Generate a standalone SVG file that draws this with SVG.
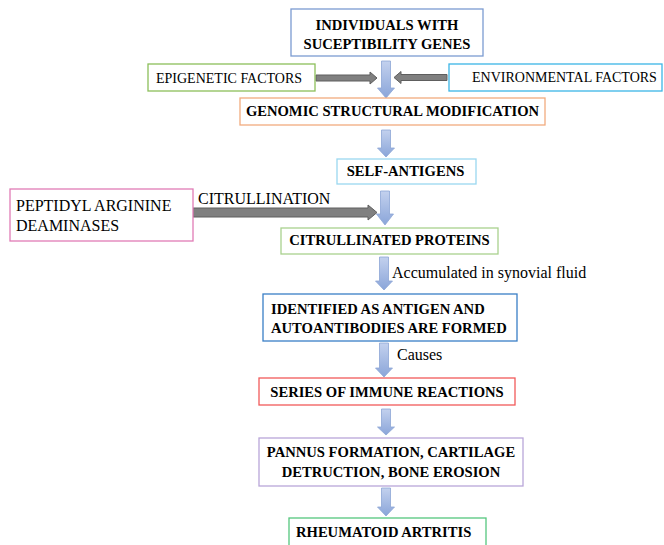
<svg xmlns="http://www.w3.org/2000/svg" width="664" height="545" viewBox="0 0 664 545">
<style>
  .box { fill: #ffffff; stroke-width: 1.3; }
  .b { font-family: "Liberation Serif", "Times New Roman", serif; font-weight: bold; font-size: 14.6px; fill: #000; }
  .r { font-family: "Liberation Serif", "Times New Roman", serif; font-size: 16px; fill: #000; }
  .s { font-family: "Liberation Serif", "Times New Roman", serif; font-size: 14px; fill: #000; }
  .varrow { fill: url(#blueGrad); stroke: #8da6d6; stroke-width: 0.8; }
  .harrow { fill: #808080; stroke: #5e5e5e; stroke-width: 1; }
</style>
<defs>
  <linearGradient id="blueGrad" x1="0" y1="0" x2="0" y2="1">
    <stop offset="0" stop-color="#c3d1ee"/>
    <stop offset="1" stop-color="#8aa5d9"/>
  </linearGradient>
</defs>
<rect width="664" height="545" fill="#ffffff"/>

<g id="connectors">
  <!-- vertical blue arrows -->
  <path class="varrow" d="M381.5,61 H390.5 V88 H394.5 L386,98 L377.5,88 H381.5 Z"/>
  <path class="varrow" d="M381.5,130 H390.5 V148 H394.5 L386,157 L377.5,148 H381.5 Z"/>
  <path class="varrow" d="M380.5,191 H389.5 V214 H393.5 L385,225 L376.5,214 H380.5 Z"/>
  <path class="varrow" d="M379.5,257 H388.5 V281 H392.5 L384,290 L375.5,281 H379.5 Z"/>
  <path class="varrow" d="M379.5,343 H388.5 V368 H392.5 L384,377 L375.5,368 H379.5 Z"/>
  <path class="varrow" d="M381.5,409 H390.5 V427 H394.5 L386,435 L377.5,427 H381.5 Z"/>
  <path class="varrow" d="M381.5,488 H390.5 V507 H394.5 L386,516 L377.5,507 H381.5 Z"/>
  <!-- gray horizontal arrows -->
  <path class="harrow" d="M316,75 H370 V72 L377,78 L370,84 V81 H316 Z"/>
  <path class="harrow" d="M447,74.5 H401 V71.5 L394,77.5 L401,83.5 V80.5 H447 Z"/>
  <path class="harrow" d="M193,208 H368 V205 L377,212.5 L368,220 V217 H193 Z"/>
  <text class="r" x="198" y="204">CITRULLINATION</text>
  <text class="r" x="392" y="278">Accumulated in synovial fluid</text>
  <text class="r" x="397" y="360">Causes</text>
</g>

<g id="individuals">
  <rect class="box" x="291" y="9" width="192" height="47" stroke="#7b9bd1"/>
  <text class="b" x="387" y="30" text-anchor="middle">INDIVIDUALS WITH</text>
  <text class="b" x="387" y="49" text-anchor="middle">SUCEPTIBILITY GENES</text>
</g>

<g id="epigenetic">
  <rect class="box" x="148" y="64" width="167" height="27" stroke="#8cbf5a"/>
  <text class="s" x="156" y="83">EPIGENETIC FACTORS</text>
</g>

<g id="environmental">
  <rect class="box" x="449" y="64" width="213" height="27" stroke="#3bb5e6"/>
  <text class="s" x="472" y="82">ENVIRONMENTAL FACTORS</text>
</g>

<g id="genomic">
  <rect class="box" x="240" y="98" width="305" height="27" stroke="#f2ab7e"/>
  <text class="b" x="392.5" y="116" text-anchor="middle">GENOMIC STRUCTURAL MODIFICATION</text>
</g>

<g id="self-antigens">
  <rect class="box" x="337" y="159" width="139" height="25" stroke="#9ad8f0"/>
  <text class="b" x="405.5" y="176" text-anchor="middle">SELF-ANTIGENS</text>
</g>

<g id="peptidyl">
  <rect class="box" x="10" y="189" width="183" height="52" stroke="#e07cb6"/>
  <text class="r" x="16" y="211">PEPTIDYL ARGININE</text>
  <text class="r" x="16" y="231">DEAMINASES</text>
</g>

<g id="citrullinated">
  <rect class="box" x="281" y="228" width="217" height="26" stroke="#a9d18e"/>
  <text class="b" x="389.5" y="245" text-anchor="middle">CITRULLINATED PROTEINS</text>
</g>

<g id="identified">
  <rect class="box" x="263" y="294" width="254" height="47" stroke="#3a7fc6"/>
  <text class="b" x="271" y="314">IDENTIFIED AS ANTIGEN AND</text>
  <text class="b" x="271" y="333">AUTOANTIBODIES ARE FORMED</text>
</g>

<g id="immune">
  <rect class="box" x="259" y="378" width="256" height="27" stroke="#f25a5a"/>
  <text class="b" x="387" y="397" text-anchor="middle">SERIES OF IMMUNE REACTIONS</text>
</g>

<g id="pannus">
  <rect class="box" x="259" y="438" width="264" height="48" stroke="#b9a6d9"/>
  <text class="b" x="391" y="457" text-anchor="middle">PANNUS FORMATION, CARTILAGE</text>
  <text class="b" x="391" y="477" text-anchor="middle">DETRUCTION, BONE EROSION</text>
</g>

<g id="ra">
  <rect class="box" x="289" y="518" width="197" height="40" stroke="#55c77e"/>
  <text class="b" x="296" y="537">RHEUMATOID ARTRITIS</text>
</g>
</svg>
